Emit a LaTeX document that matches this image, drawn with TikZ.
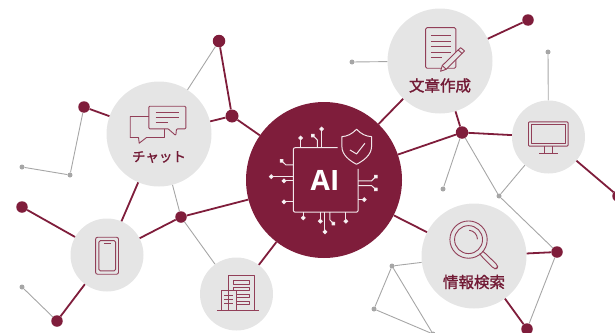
\documentclass[tikz,border=0pt]{standalone}
\usepackage{fontspec}
\setsansfont{Open Sans}
\newfontfamily\cjk[FakeBold=1.4]{Noto Sans CJK JP}
\usetikzlibrary{arrows.meta}
\definecolor{wine}{HTML}{7F1D3B}
\definecolor{ballgrey}{HTML}{E5E5E5}
\definecolor{linegrey}{HTML}{A6A6A6}
\tikzset{
  hub/.style={circle,fill=wine,inner sep=0,minimum size=156pt},
  bigball/.style={circle,fill=ballgrey,inner sep=0,minimum size=105pt},
  smallball/.style={circle,fill=ballgrey,inner sep=0,minimum size=73pt},
  reddot/.style={circle,fill=wine,inner sep=0,minimum size=11.5pt},
  greydot/.style={circle,fill=linegrey,inner sep=0,minimum size=5pt},
  redline/.style={draw=wine,line width=1.8pt},
  greyline/.style={draw=linegrey,line width=0.9pt},
  icon/.style={draw=wine!85!white,line width=0.9pt,line join=round},
  chipline/.style={draw=white!90!wine,line width=1pt,line join=round},
  pin/.style={chipline,-{Circle[length=4.6pt,fill=white]}},
  caption/.style={text=wine!90!black,font=\cjk\fontsize{15.5}{18}\selectfont,inner sep=0}
}
\begin{document}
\begin{tikzpicture}[x=1pt,y=-1pt]
\useasboundingbox (0,0) rectangle (615,332);
\clip (0,0) rectangle (615,332);

\node[hub] (ai) at (324,180) {};
\node[bigball] (chat) at (159,134) {};
\node[bigball] (write) at (440,61) {};
\node[bigball] (search) at (474,256) {};
\node[smallball] (monitor) at (548.5,137) {};
\node[smallball] (phone) at (107,255) {};
\node[smallball] (office) at (236.5,294) {};

\node[reddot,minimum size=12.5pt] (r1) at (219,41) {};
\node[reddot,minimum size=13pt] (r2) at (232,116) {};
\node[reddot] (r3) at (84,107) {};
\node[reddot] (r4) at (22,207) {};
\node[reddot] (r5) at (181,217) {};
\node[reddot] (r6) at (57,321) {};
\node[reddot] (r7) at (528,20) {};
\node[reddot,minimum size=12.5pt] (r8) at (462,132.5) {};
\node[reddot] (r9) at (557,252) {};
\node[reddot] (r10) at (527,329) {};
\node[reddot] (r11) at (618,196) {};

\node[greydot] (g1) at (22,167) {};
\node[greydot] (g2) at (70,175) {};
\node[greydot] (g3) at (22,287) {};
\node[greydot] (g4) at (352,62) {};
\node[greydot] (g5) at (548,52) {};
\node[greydot] (g6) at (443,189) {};
\node[greydot] (g7) at (499,196) {};
\node[greydot] (g8) at (392,266) {};
\node[greydot] (g9) at (374,309) {};
\node[greydot] (g10) at (433,334) {};

\foreach \a/\b in {r3/chat,r2/chat,r1/r2,r2/ai,chat/phone,r4/phone,phone/r5,r5/ai,phone/r6,
  office/ai,write/ai,write/r7,write/r8,r8/ai,r8/monitor,monitor/r11,ai/search,search/r9,search/r10}
  \draw[redline] (\a) -- (\b);
\foreach \a/\b in {g1/g2,g2/r3,chat/r1,chat/r5,r5/office,g3/r6,g4/write,g5/monitor,r8/g6,r8/g7,
  g7/monitor,g7/r9,r9/r10,search/g8,g8/g9,g8/g10,g9/g10}
  \draw[greyline] (\a) -- (\b);

\node[text=white,font=\sffamily\bfseries\fontsize{28}{30}\selectfont,inner sep=0] (ailabel) at (325,180) {AI};
\node[caption,font=\cjk\fontsize{13.5}{16}\selectfont] (chatlabel) at (159,157) {チャット};
\node[caption] (writelabel) at (440,85.5) {文章作成};
\node[caption] (searchlabel) at (474,282) {情報検索};

\begin{scope}[shift={(240,95)},scale=0.333]
\draw[chipline,rounded corners=2pt] (293,158) -- (160,158) -- (160,352) -- (355,352) -- (355,222);
\draw[chipline] (350,103) .. controls (335,118) and (322,124) .. (306,125)
  -- (306,155) .. controls (306,180) and (330,198) .. (350,208) .. controls (370,198) and (395,180) .. (395,155) -- (395,125)
  .. controls (378,124) and (365,118) .. (350,103) -- cycle;
\draw[chipline] (330,165) -- (350,177) -- (375,145);
\foreach \a/\b in {182/122,245/95}
  \draw[pin] (\a,158) -- (\a,\b);
\draw[pin] (232,158) -- (232,135) -- (214,117);
\draw[pin] (160,210) -- (138,210) -- (120,193);
\foreach \a/\b in {245/87,258/125,321/125}
  \draw[pin] (160,\a) -- (\b,\a);
\draw[pin] (355,258) -- (395,258) -- (413,240);
\draw[pin] (355,272) -- (395,272) -- (413,288);
\draw[pin] (355,314) -- (380,314);
\foreach \a/\b in {190/376,241/386,255/418,318/386}
  \draw[pin] (\a,352) -- (\a,\b);
\draw[pin] (270,352) -- (270,375) -- (285,391);
\end{scope}

\begin{scope}[scale=0.333]
\draw[icon] (447,350) -- (391,350) -- (391,413) -- (416,413) -- (418,430) -- (440,413) -- (494,413) -- (494,387);
\draw[icon,rounded corners=1pt] (505,387) -- (447,387) -- (447,319) -- (558,319) -- (558,387) -- (530,387) -- (528,407) -- (505,387);
\draw[icon] (467,339) -- (538,339) (467,353) -- (538,353) (467,367) -- (505,367);
\end{scope}

\begin{scope}[shift={(0,170)},scale=0.333]
\draw[icon,rounded corners=2pt] (287,202) rectangle (356,313);
\draw[icon,rounded corners=1.5pt] (297,212) rectangle (347,303);
\draw[icon] (312,221) -- (332,221);
\draw[icon] (686,421) -- (686,318) -- (764,318) -- (764,421);
\draw[icon] (700,333) rectangle (749,343);
\draw[icon] (700,362) -- (700,353) -- (749,353) -- (749,363) -- (709,363);
\draw[icon] (709,373) -- (749,373) -- (749,383) -- (709,383);
\draw[icon] (709,394) -- (749,394) -- (749,404) -- (709,404);
\draw[icon,line width=1pt] (665,421) -- (665,362) -- (709,362) -- (709,421);
\draw[icon] (674,376) -- (700,376) (674,388) -- (700,388) (674,400) -- (700,400);
\draw[icon,line width=1pt] (651,421) -- (778,421);
\end{scope}

\begin{scope}[shift={(340,0)},scale=0.333]
\draw[icon,rounded corners=1.5pt] (257,83) rectangle (348,205);
\foreach \a in {106,123,140,157}
  \draw[icon] (273,\a) -- (332,\a);
\draw[icon] (273,174) -- (305,174);
\draw[icon,fill=ballgrey] (302,214) -- (307,197) -- (362,143) -- (374,153) -- (319,208) -- cycle;
\draw[icon] (307,197) -- (319,208) (355,150) -- (367,161);
\draw[icon,rounded corners=1pt] (566,366) rectangle (685,439);
\draw[icon] (575,375) rectangle (677,430);
\draw[icon] (615,439) -- (615,459) (637,439) -- (637,459);
\draw[icon,line width=1pt] (598,460) -- (654,460);
\end{scope}

\begin{scope}[shift={(360,170)},scale=0.333]
\draw[icon] (326,209) circle (56);
\draw[icon] (326,209) circle (42);
\draw[icon] (328,181) arc (-85:0:27);
\draw[icon,rounded corners=2.5pt] (368,244) -- (375,249) -- (414,287) -- (412,296) -- (403,297) -- (364,258) -- (360,252);
\end{scope}
\end{tikzpicture}
\end{document}
